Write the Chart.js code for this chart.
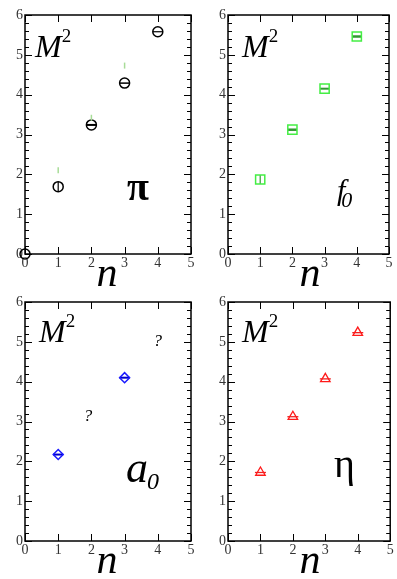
<!DOCTYPE html>
<html>
<head>
<meta charset="utf-8">
<script src="https://cdn.jsdelivr.net/npm/chart.js@4"></script>
<style>
  html,body{margin:0;padding:0;background:#fff;}
  #wrap{position:relative;width:397px;height:579px;overflow:hidden;background:#fff;}
  canvas{position:absolute;}
</style>
</head>
<body>
<div id="wrap">
  <canvas id="c1" width="198" height="289" style="left:0;top:0"></canvas>
  <canvas id="c2" width="199" height="289" style="left:198px;top:0"></canvas>
  <canvas id="c3" width="198" height="290" style="left:0;top:289px"></canvas>
  <canvas id="c4" width="199" height="290" style="left:198px;top:289px"></canvas>
</div>
<script>
// ---- data ----
const xTickValues = [0, 1, 2, 3, 4, 5];
const yTickValues = [0, 1, 2, 3, 4, 5, 6];

const piN  = [0, 1, 2, 3, 4];
const piM2 = [0, 1.69, 3.24, 4.29, 5.58];
const piFaintN  = [1, 2, 3];
const piFaintM2 = [2.1, 3.42, 4.73];

const f0N  = [1, 2, 3, 4];
const f0M2 = [1.87, 3.12, 4.15, 5.46];

const a0N  = [1, 3];
const a0M2 = [2.17, 4.1];
const a0UnknownN  = [1.9, 4.0];
const a0UnknownM2 = [3.13, 5.0];

const etaN  = [1, 2, 3, 4];
const etaM2 = [1.72, 3.12, 4.07, 5.23];

const SERIF = '"Liberation Serif", "DejaVu Serif", serif';

function pts(xs, ys) { return xs.map((v, i) => ({ x: v, y: ys[i] })); }

const framePlugin = {
  id: 'frame',
  afterDatasetsDraw(chart, args, o) {
    const { ctx, chartArea: a, scales: { x, y } } = chart;
    ctx.save();
    ctx.strokeStyle = '#000';
    ctx.lineWidth = 1.5;
    ctx.strokeRect(a.left, a.top, a.right - a.left, a.bottom - a.top);
    ctx.lineWidth = 1;
    ctx.beginPath();
    const yMin = yTickValues[0], yMax = yTickValues[yTickValues.length - 1];
    for (let k = 0; k <= (yMax - yMin) * 5; k++) {
      const v = yMin + k * 0.2;
      const py = Math.round(y.getPixelForValue(v)) + 0.5;
      const L = (k % 5 === 0) ? 7 : 4;
      ctx.moveTo(a.left, py); ctx.lineTo(a.left + L, py);
      ctx.moveTo(a.right, py); ctx.lineTo(a.right - L, py);
    }
    xTickValues.forEach(v => {
      const px = Math.round(x.getPixelForValue(v)) + 0.5;
      ctx.moveTo(px, a.bottom); ctx.lineTo(px, a.bottom - 7);
      ctx.moveTo(px, a.top); ctx.lineTo(px, a.top + 7);
    });
    ctx.stroke();

    chart.data.datasets.forEach((ds, i) => {
      if (!ds.questionMarks) return;
      const meta = chart.getDatasetMeta(i);
      ctx.fillStyle = '#000';
      ctx.font = 'italic 17px ' + SERIF;
      ctx.textAlign = 'center';
      ctx.textBaseline = 'middle';
      meta.data.forEach(el => ctx.fillText('?', el.x, el.y));
    });

    ctx.fillStyle = '#000';
    ctx.textAlign = 'left';
    ctx.textBaseline = 'alphabetic';
    ctx.font = 'italic 32px ' + SERIF;
    const mx = a.left + o.mdx, my = a.top + o.mdy;
    ctx.fillText('M', mx, my);
    const mw = ctx.measureText('M').width;
    ctx.font = '19px ' + SERIF;
    ctx.fillText('2', mx + mw, my - 15);
    ctx.font = 'italic 42px ' + SERIF;
    ctx.textAlign = 'center';
    ctx.fillText('n', a.left + 82, a.bottom + 32);
    ctx.textAlign = 'left';
    ctx.font = o.nameFont;
    ctx.fillText(o.name, o.nx, o.ny);
    if (o.sub) {
      const w = ctx.measureText(o.name).width;
      ctx.font = o.subFont;
      ctx.fillText(o.sub, o.nx + w + o.subDx, o.ny + o.subDy);
    }
    ctx.restore();
  }
};

function makeChart(id, datasets, lay, labels) {
  const canvas = document.getElementById(id);
  return new Chart(canvas, {
    type: 'scatter',
    data: { datasets },
    options: {
      responsive: false,
      animation: false,
      devicePixelRatio: 1,
      layout: { padding: { left: 0, top: lay.top, right: lay.right, bottom: 0 } },
      plugins: { legend: { display: false }, tooltip: { enabled: false }, frame: labels },
      scales: {
        x: {
          type: 'linear', min: 0, max: 5,
          afterBuildTicks: s => { s.ticks = xTickValues.map(v => ({ value: v })); },
          ticks: { font: { family: SERIF, size: 14 }, color: '#333', padding: 1, maxRotation: 0, autoSkip: false },
          grid: { display: false, drawTicks: false },
          border: { display: false },
          afterFit: s => { s.height = lay.xh; }
        },
        y: {
          type: 'linear', min: 0, max: 6,
          afterBuildTicks: s => { s.ticks = yTickValues.map(v => ({ value: v })); },
          ticks: { font: { family: SERIF, size: 14 }, color: '#333', padding: 2, autoSkip: false },
          grid: { display: false, drawTicks: false },
          border: { display: false },
          afterFit: s => { s.width = lay.yw; }
        }
      }
    },
    plugins: [framePlugin]
  });
}

makeChart('c1', [
  { data: pts(piFaintN, piFaintM2), pointStyle: 'line', pointRotation: 90, pointRadius: 3,
    borderColor: '#a8dc98', borderWidth: 1.5, showLine: false, clip: false },
  { data: pts(piN, piM2), pointStyle: 'circle', pointRadius: 5, borderColor: '#000',
    backgroundColor: 'rgba(0,0,0,0)', borderWidth: 1.5, showLine: false, clip: false },
  { data: pts(piN.slice(1), piM2.slice(1)), pointStyle: 'line', pointRotation: [90, 0, 0, 0], pointRadius: 5,
    borderColor: '#000', borderWidth: [1.2, 2, 1.5, 1.2], showLine: false, clip: false }
], { top: 15, right: 5, xh: 35, yw: 25 },
{ mdx: 10, mdy: 42, name: 'π', nameFont: 'bold 40px ' + SERIF, nx: 127, ny: 200 });

makeChart('c2', [
  { data: pts(f0N, f0M2), pointStyle: 'rect', pointRadius: 6.5, borderColor: '#44ee44',
    backgroundColor: 'rgba(0,0,0,0)', borderWidth: 1.5, showLine: false, clip: false },
  { data: pts(f0N, f0M2), pointStyle: 'line', pointRotation: [90, 0, 0, 0], pointRadius: 4.5,
    borderColor: '#339933', borderWidth: [1.2, 2.5, 2, 2.5], showLine: false, clip: false }
], { top: 15, right: 6, xh: 35, yw: 30 },
{ mdx: 14, mdy: 42, name: 'f', nameFont: 'italic 30px ' + SERIF, nx: 139, ny: 200,
  sub: '0', subFont: 'italic 22px ' + SERIF, subDx: -4, subDy: 7 });

makeChart('c3', [
  { data: pts(a0N, a0M2), pointStyle: 'rectRot', pointRadius: 5, borderColor: '#1a1aff',
    backgroundColor: 'rgba(0,0,0,0)', borderWidth: 1.5, showLine: false, clip: false },
  { data: pts(a0N, a0M2), pointStyle: 'line', pointRadius: 5,
    borderColor: '#0000cc', borderWidth: 2, showLine: false, clip: false },
  { data: pts(a0UnknownN, a0UnknownM2), pointRadius: 0, questionMarks: true, showLine: false }
], { top: 13, right: 4, xh: 38, yw: 25 },
{ mdx: 14, mdy: 40, name: 'a', nameFont: 'italic 44px ' + SERIF, nx: 126, ny: 193,
  sub: '0', subFont: 'italic 24px ' + SERIF, subDx: -1, subDy: 7 });

makeChart('c4', [
  { data: pts(etaN, etaM2), pointStyle: 'triangle', pointRadius: 5.5, borderColor: '#ff1a1a',
    backgroundColor: 'rgba(0,0,0,0)', borderWidth: 1.3, showLine: false, clip: false },
  { data: pts(etaN, etaM2), pointStyle: 'line', pointRadius: 5.5,
    borderColor: '#ee2222', borderWidth: 1.3, showLine: false, clip: false }
], { top: 13, right: 6, xh: 38, yw: 30 },
{ mdx: 14, mdy: 40, name: 'η', nameFont: '40px ' + SERIF, nx: 136, ny: 188 });
</script>
</body>
</html>
